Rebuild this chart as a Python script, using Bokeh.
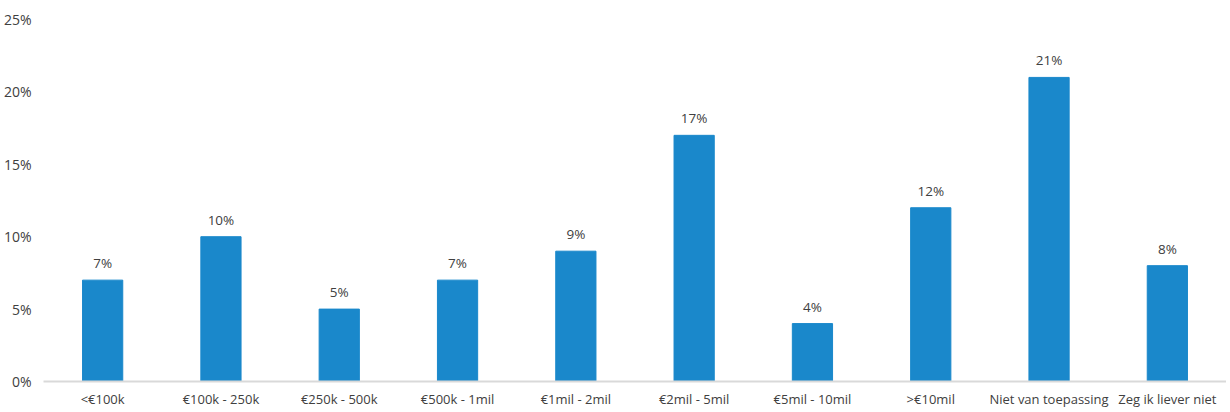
from bokeh.plotting import figure
from bokeh.models import ColumnDataSource, LabelSet, FactorRange, Range1d, FixedTicker, CustomJSTickFormatter
from bokeh.core.properties import value
from bokeh.embed import file_html
from bokeh.resources import INLINE

categories = ["<€100k", "€100k - 250k", "€250k - 500k", "€500k - 1mil", "€1mil - 2mil",
              "€2mil - 5mil", "€5mil - 10mil", ">€10mil", "Niet van toepassing", "Zeg ik liever niet"]
values = [7, 10, 5, 7, 9, 17, 4, 12, 21, 8]
value_labels = [f"{v}%" for v in values]
y_ticks = [0, 5, 10, 15, 20, 25]

src = ColumnDataSource(dict(cat=categories, val=values, lab=value_labels))

FONT = "Open Sans"
TXT = "#404040"

p = figure(x_range=FactorRange(*categories, range_padding=0), y_range=Range1d(0, 25),
           width=1226, height=410, output_backend="svg", toolbar_location=None,
           min_border_left=42, min_border_right=0, min_border_top=19, min_border_bottom=0)
p.outline_line_color = None
p.background_fill_color = "white"
p.border_fill_color = "white"

p.vbar(x="cat", top="val", width=0.34, source=src, fill_color="#1a88cb", line_color="#1a88cb")

labels = LabelSet(x="cat", y="val", text="lab", source=src, y_offset=8,
                  text_align="center", text_baseline="bottom",
                  text_font=value(FONT), text_font_size="13.5px", text_color=TXT)
p.add_layout(labels)

p.xgrid.visible = False
p.ygrid.visible = False

p.yaxis.ticker = FixedTicker(ticks=y_ticks)
p.yaxis.formatter = CustomJSTickFormatter(code="return tick + '%';")
p.yaxis.axis_line_color = None
p.yaxis.major_tick_line_color = None
p.yaxis.minor_tick_line_color = None
p.yaxis.major_label_text_font = FONT
p.yaxis.major_label_text_font_size = "14px"
p.yaxis.major_label_text_color = TXT
p.yaxis.major_label_standoff = 6

p.xaxis.axis_line_color = "#d9d9d9"
p.xaxis.axis_line_width = 2
p.xaxis.major_tick_line_color = None
p.xaxis.minor_tick_line_color = None
p.xaxis.major_label_text_font = FONT
p.xaxis.major_label_text_font_size = "13px"
p.xaxis.major_label_text_color = TXT
p.xaxis.major_label_standoff = 2

open("out.html", "w").write(file_html(p, INLINE))
